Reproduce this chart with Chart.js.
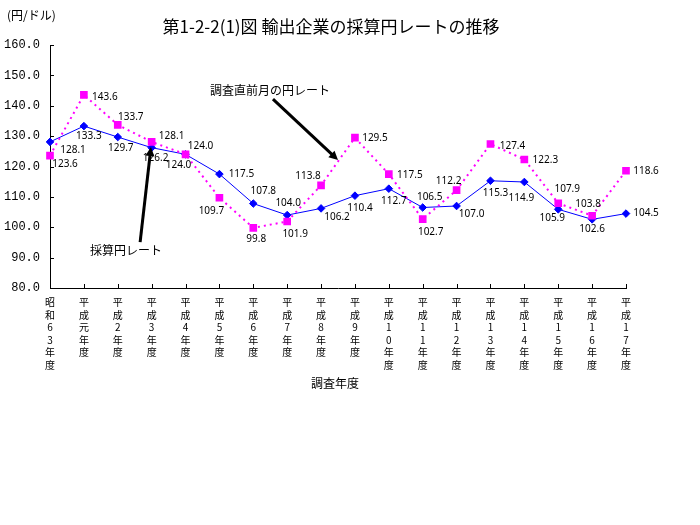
<!DOCTYPE html>
<html lang="ja">
<head>
<meta charset="utf-8">
<title>輸出企業の採算円レートの推移</title>
<script src="https://cdn.jsdelivr.net/npm/chart.js@4/dist/chart.umd.min.js"></script>
<style>
  html, body { margin: 0; padding: 0; background: #fff; }
  #wrap { width: 700px; height: 525px; position: relative; }
</style>
</head>
<body>
<div id="wrap"><canvas id="grafico" width="700" height="525"></canvas></div>
<script>
// 調査年度
const categories = [
  "昭和63年度", "平成元年度", "平成2年度", "平成3年度", "平成4年度", "平成5年度",
  "平成6年度", "平成7年度", "平成8年度", "平成9年度", "平成10年度", "平成11年度",
  "平成12年度", "平成13年度", "平成14年度", "平成15年度", "平成16年度", "平成17年度"
];

// 採算円レート (円/ドル)
const saisanRate = [
  128.1, 133.3, 129.7, 126.2, 124.0, 117.5, 107.8, 104.0, 106.2,
  110.4, 112.7, 106.5, 107.0, 115.3, 114.9, 105.9, 102.6, 104.5
];

// 調査直前月の円レート (円/ドル)
const chokuzenRate = [
  123.6, 143.6, 133.7, 128.1, 124.0, 109.7, 99.8, 101.9, 113.8,
  129.5, 117.5, 102.7, 112.2, 127.4, 122.3, 107.9, 103.8, 118.6
];

const yTicks = [80, 90, 100, 110, 120, 130, 140, 150, 160];

// 値ラベルの点からのずれ (px)
const saisanLabelOffset = [
  [23, 8], [5, 10], [3, 11], [4, 10], [-7, 11], [22, 0], [10, -12], [1, -12], [16, 9],
  [5, 12], [5, 12], [7, -10], [15, 8], [5, 12], [-3, 16], [-6, 9], [0, 10], [20, 0]
];
const chokuzenLabelOffset = [
  [15, 9], [21, 2], [13, -8], [20, -6], [15, -8], [-8, 13], [3, 11], [8, 13], [-13, -9],
  [20, 1], [21, 1], [8, 13], [-8, -9], [22, 2], [21, 1], [9, -14], [-4, -12], [20, 0]
];

// 矢印付き注記 (軸の値で指定)
const notes = [
  { text: "調査直前月の円レート", at: [6.49, 144.9], from: [6.58, 142.2], to: [8.50, 122.1] },
  { text: "採算円レート", at: [2.24, 92.5], from: [2.66, 95.1], to: [2.98, 126.4] }
];

const JP = '"Noto Sans CJK JP", "Noto Sans", sans-serif';

function drawArrow(ctx, x1, y1, x2, y2) {
  const ang = Math.atan2(y2 - y1, x2 - x1);
  const head = 9, half = 4.5;
  ctx.beginPath();
  ctx.moveTo(x1, y1);
  ctx.lineTo(x2 - Math.cos(ang) * head * 0.8, y2 - Math.sin(ang) * head * 0.8);
  ctx.lineWidth = 3;
  ctx.stroke();
  ctx.beginPath();
  ctx.moveTo(x2, y2);
  ctx.lineTo(x2 - Math.cos(ang) * head + Math.sin(ang) * half, y2 - Math.sin(ang) * head - Math.cos(ang) * half);
  ctx.lineTo(x2 - Math.cos(ang) * head - Math.sin(ang) * half, y2 - Math.sin(ang) * head + Math.cos(ang) * half);
  ctx.closePath();
  ctx.fill();
}

const decorar = {
  id: "decorar",
  afterDraw(chart) {
    const { ctx, chartArea, scales: { x, y } } = chart;
    ctx.save();

    // 内向きの目盛
    ctx.strokeStyle = "#000";
    ctx.lineWidth = 1;
    ctx.beginPath();
    yTicks.forEach((v) => {
      const py = Math.round(y.getPixelForValue(v)) + 0.5;
      ctx.moveTo(chartArea.left, py);
      ctx.lineTo(chartArea.left + 4, py);
    });
    categories.forEach((c, i) => {
      const px = Math.round(x.getPixelForValue(i)) + 0.5;
      ctx.moveTo(px, chartArea.bottom);
      ctx.lineTo(px, chartArea.bottom - 4);
    });
    ctx.stroke();

    // 値ラベル
    ctx.fillStyle = "#000";
    ctx.font = '10px "Noto Sans", sans-serif';
    ctx.textAlign = "center";
    ctx.textBaseline = "middle";
    chart.data.datasets.forEach((ds, i) => {
      const meta = chart.getDatasetMeta(i);
      meta.data.forEach((pt, j) => {
        const [dx, dy] = ds.labelOffsets[j];
        ctx.fillText(ds.data[j].toFixed(1), pt.x + dx, pt.y + dy);
      });
    });

    // 注記と矢印
    ctx.font = "12px " + JP;
    notes.forEach((n) => {
      ctx.fillText(n.text, x.getPixelForValue(n.at[0]), y.getPixelForValue(n.at[1]));
      ctx.strokeStyle = "#000";
      drawArrow(ctx,
        x.getPixelForValue(n.from[0]), y.getPixelForValue(n.from[1]),
        x.getPixelForValue(n.to[0]), y.getPixelForValue(n.to[1]));
    });

    // 表題・単位・軸名
    ctx.font = "17px " + JP;
    ctx.fillText("第1-2-2(1)図 輸出企業の採算円レートの推移", 331, 27);
    ctx.font = "12px " + JP;
    ctx.textAlign = "left";
    ctx.fillText("(円/ドル)", 7, 15);
    ctx.textAlign = "center";
    ctx.fillText("調査年度", (chartArea.left + chartArea.right) / 2 - 3, 383);

    ctx.restore();
  }
};

new Chart(document.getElementById("grafico"), {
  type: "line",
  data: {
    labels: categories.map((c) => Array.from(c)),
    datasets: [
      {
        label: "採算円レート",
        data: saisanRate,
        labelOffsets: saisanLabelOffset,
        borderColor: "#0000ff",
        backgroundColor: "#0000ff",
        borderWidth: 1,
        pointStyle: "rectRot",
        pointRadius: 3.8,
        tension: 0,
        order: 1,
      },
      {
        label: "調査直前月の円レート",
        data: chokuzenRate,
        labelOffsets: chokuzenLabelOffset,
        borderColor: "#ff00ff",
        backgroundColor: "#ff00ff",
        borderWidth: 2,
        borderDash: [2, 4],
        pointStyle: "rect",
        pointRadius: 4,
        tension: 0,
        order: 0,
      },
    ],
  },
  options: {
    responsive: false,
    animation: false,
    layout: { padding: { top: 45, right: 74, bottom: 137, left: 0 } },
    plugins: {
      legend: { display: false },
      title: { display: false },
      tooltip: { enabled: false },
    },
    scales: {
      x: {
        type: "category",
        offset: false,
        grid: { display: false, drawTicks: false },
        border: { display: true, color: "#000", width: 1 },
        ticks: {
          autoSkip: false,
          maxRotation: 0,
          minRotation: 0,
          padding: 8,
          color: "#000",
          font: { family: JP, size: 10, lineHeight: 1.25 },
        },
        afterFit(scale) { scale.height = 100; },
      },
      y: {
        min: 80,
        max: 160,
        afterBuildTicks(scale) { scale.ticks = yTicks.map((v) => ({ value: v })); },
        grid: { display: false, drawTicks: false },
        border: { display: true, color: "#000", width: 1 },
        ticks: {
          padding: 10,
          color: "#000",
          font: { family: '"Liberation Mono", monospace', size: 12 },
          callback: (v) => Number(v).toFixed(1),
        },
        afterFit(scale) { scale.width = 50; },
      },
    },
  },
  plugins: [decorar],
});
</script>
</body>
</html>
